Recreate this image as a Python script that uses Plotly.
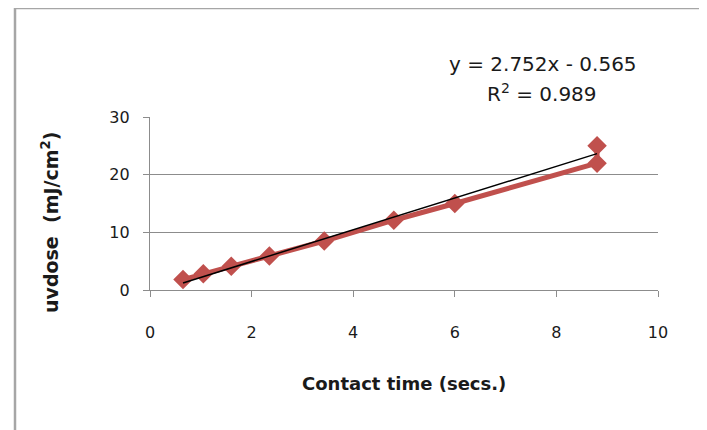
import plotly.graph_objects as go

# Data
contact_time = [0.65, 1.05, 1.6, 2.35, 3.43, 4.8, 6.0, 8.8, 8.8]
uv_dose = [1.8, 2.8, 4.1, 5.9, 8.5, 12.1, 15.0, 22.0, 25.0]

slope = 2.752
intercept = -0.565
r_squared = 0.989

x_ticks = [0, 2, 4, 6, 8, 10]
y_ticks = [0, 10, 20, 30]

red = "#C0504D"
grid = "#8C8C8C"
font_family = "DejaVu Sans"
text_color = "#1a1a1a"

# page is offset by the 8px body margin; work in figure coordinates
OFF = 8
W, H = 707 - OFF, 430 - OFF
PL, PR, PT, PB = 150 - OFF, 658 - OFF, 117 - OFF, 290 - OFF  # plot area in figure px
PW, PH = PR - PL, PB - PT


def px(page_x):
    return (page_x - OFF - PL) / PW


def py(page_y):
    return (PB - (page_y - OFF)) / PH


trend_x = [min(contact_time), max(contact_time)]
trend_y = [slope * v + intercept for v in trend_x]

fig = go.Figure()
fig.add_trace(go.Scatter(
    x=contact_time, y=uv_dose, mode="lines+markers",
    line=dict(color=red, width=5),
    marker=dict(symbol="diamond", size=15, color=red),
    showlegend=False, hoverinfo="x+y",
))
fig.add_trace(go.Scatter(
    x=trend_x, y=trend_y, mode="lines",
    line=dict(color="black", width=1.5),
    showlegend=False, hoverinfo="skip",
))

fig.update_layout(
    width=W, height=H,
    margin=dict(l=PL, r=W - PR, t=PT, b=H - PB),
    paper_bgcolor="white", plot_bgcolor="white",
    font=dict(family=font_family, size=16, color=text_color),
    xaxis=dict(
        range=[0, 10], tickvals=x_ticks, showgrid=False, zeroline=False,
        showline=True, linecolor=grid, linewidth=1.3,
        ticks="outside", ticklen=6, tickcolor=grid, tickwidth=1.3,
        ticklabelstandoff=22, tickfont=dict(size=16, family=font_family, color=text_color),
        fixedrange=True,
    ),
    yaxis=dict(
        range=[0, 30], tickvals=y_ticks, showgrid=True, gridcolor=grid, gridwidth=1.3,
        zeroline=False, showline=True, linecolor=grid, linewidth=1.3,
        ticks="outside", ticklen=6, tickcolor=grid, tickwidth=1.3,
        ticklabelstandoff=10, tickfont=dict(size=16, family=font_family, color=text_color),
        fixedrange=True,
    ),
    shapes=[dict(
        type="rect", xref="paper", yref="paper",
        x0=px(15), x1=px(701), y0=py(445), y1=py(8),
        line=dict(color="#A6A6A6", width=2.5), fillcolor="rgba(0,0,0,0)", layer="below",
    )],
    annotations=[
        dict(text="<b>Contact time (secs.)</b>", xref="paper", yref="paper",
             x=px(404), y=py(383), showarrow=False,
             font=dict(size=18, family=font_family, color=text_color),
             xanchor="center", yanchor="middle"),
        dict(text="<b>uvdose \u00a0(mJ/cm<sup>2</sup>)</b>", xref="paper", yref="paper",
             x=px(50), y=py(222), showarrow=False, textangle=-90,
             font=dict(size=19, family=font_family, color=text_color),
             xanchor="center", yanchor="middle"),
        dict(text=f"y = {slope}x - {abs(intercept)}", xref="paper", yref="paper",
             x=px(543), y=py(64), showarrow=False,
             font=dict(size=20, family=font_family, color=text_color),
             xanchor="center", yanchor="middle"),
        dict(text=f"R<sup>2</sup> = {r_squared}", xref="paper", yref="paper",
             x=px(542), y=py(93), showarrow=False,
             font=dict(size=20, family=font_family, color=text_color),
             xanchor="center", yanchor="middle"),
    ],
)

fig.write_html("out.html")
